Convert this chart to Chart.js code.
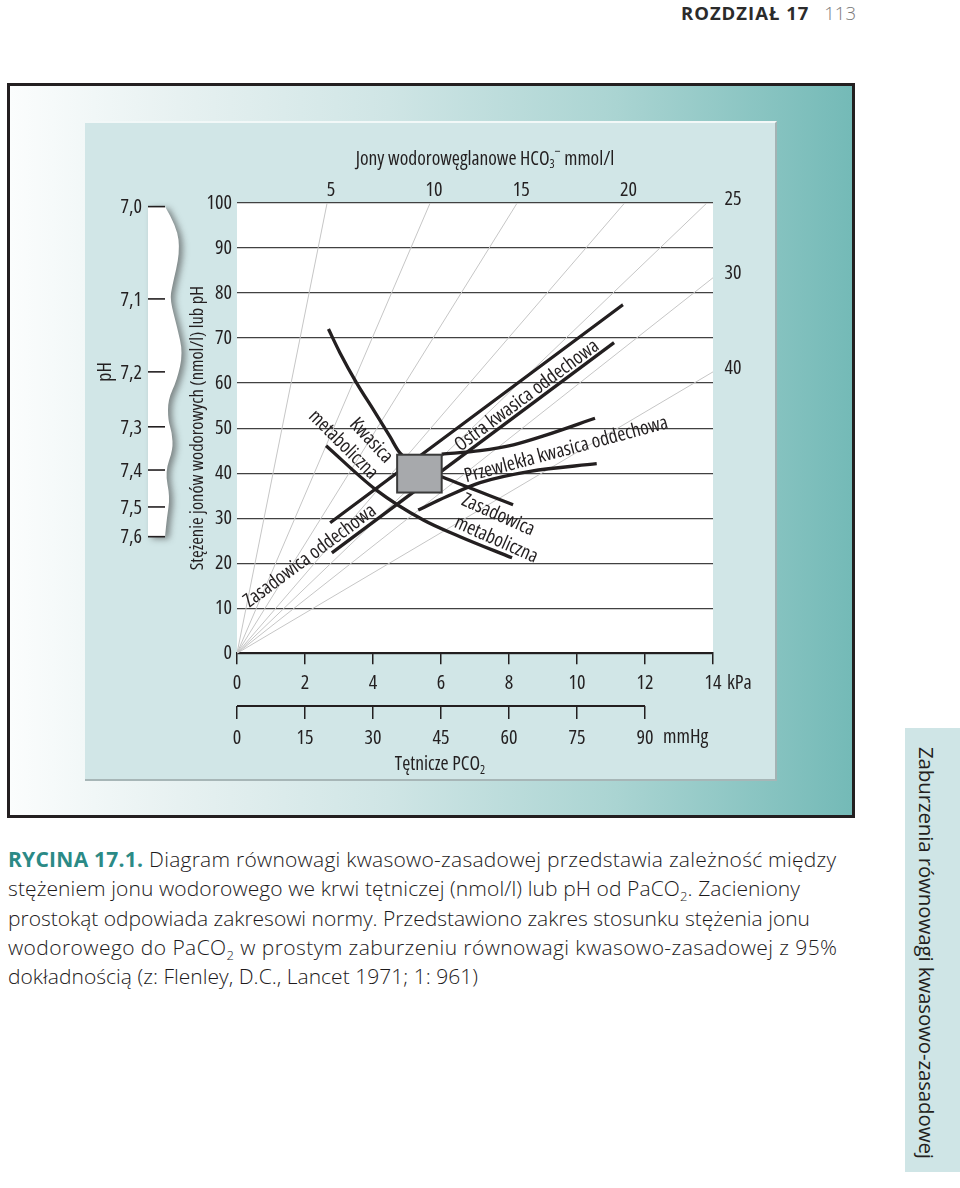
<!DOCTYPE html>
<html lang="pl">
<head>
<meta charset="utf-8">
<title>Rycina 17.1 – diagram równowagi kwasowo-zasadowej</title>
<script src="https://cdn.jsdelivr.net/npm/chart.js@4/dist/chart.umd.min.js"></script>
<style>
  html, body { margin: 0; padding: 0; background: #fff; }
  body { width: 960px; height: 1188px; position: relative; overflow: hidden; font-family: 'Open Sans', sans-serif; color: #231f20; }
  .runhead { position: absolute; top: 0; right: 104px; font-size: 18.5px; line-height: 26px; white-space: nowrap; }
  .runhead .chap { font-weight: 700; letter-spacing: 1px; color: #2b2b2b; }
  .runhead .page { margin-left: 15px; color: #7a7a7a; font-weight: 300; }
  .frame { position: absolute; left: 7px; top: 83px; width: 842px; height: 729px; border: 3px solid #231f20;
    background: linear-gradient(90deg, #fbfdfd 0%, #e7f1f1 20%, #cfe5e5 45%, #aad4d2 72%, #74bab7 100%); }
  .panel { position: absolute; left: 85px; top: 121px; width: 690px; height: 656px; background: #d1e6e7;
    border-top: 2px solid #f2f8f8; border-right: 2px solid #a3b3b4; border-bottom: 2px solid #a7b6b7; }
  #chart { position: absolute; left: 0; top: 0; }
  .caption { position: absolute; left: 8px; top: 845px; font-size: 21px; line-height: 29.3px; font-weight: 300; color: #1d1a1b; }
  .caption span { display: inline-block; white-space: nowrap; }
  .caption b { color: #2b8a86; font-weight: 700; }
  .caption sub { font-size: 13px; line-height: 0; }
  .tab { position: absolute; left: 905px; top: 728px; width: 55px; height: 444px; background: #cfe5e6; }
  .tab span { position: absolute; left: 8px; top: 19px; writing-mode: vertical-rl; font-size: 20.5px; line-height: 28px; white-space: nowrap; }
</style>
</head>
<body>
<div class="runhead"><span class="chap">ROZDZIAŁ 17</span><span class="page">113</span></div>
<div class="frame"></div>
<div class="panel"></div>
<canvas id="chart" width="960" height="820"></canvas>
<div class="caption">
  <span data-w="828"><b>RYCINA 17.1.</b> Diagram równowagi kwasowo-zasadowej przedstawia zależność między</span><br>
  <span data-w="792">stężeniem jonu wodorowego we krwi tętniczej (nmol/l) lub pH od PaCO<sub>2</sub>. Zacieniony</span><br>
  <span data-w="802">prostokąt odpowiada zakresowi normy. Przedstawiono zakres stosunku stężenia jonu</span><br>
  <span data-w="829">wodorowego do PaCO<sub>2</sub> w prostym zaburzeniu równowagi kwasowo-zasadowej z 95%</span><br>
  <span data-w="470">dokładnością (z: Flenley, D.C., Lancet 1971; 1: 961)</span>
</div>
<div class="tab"><span data-h="412">Zaburzenia równowagi kwasowo-zasadowej</span></div>

<script>
// HCO3- isopleths (mmol/l): all start at the origin, end where they leave the plot
const hco3Values = [5, 10, 15, 20, 25, 30, 40];
const hco3EndKpa = [2.65, 5.68, 8.24, 11.4, 13.82, 14, 14];
const hco3EndNmol = [100, 100, 100, 100, 100, 83.4, 62.5];
const hco3LabelSide = ['top', 'top', 'top', 'top', 'right', 'right', 'right'];

// pH scale next to the [H+] axis
const phLabels = ['7,0', '7,1', '7,2', '7,3', '7,4', '7,5', '7,6'];
const phNmol = [99.2, 78.7, 62.5, 50.3, 40.7, 32.5, 25.9];

const mmHgTicks = [0, 15, 30, 45, 60, 75, 90];

// 95% bands (x = PCO2 kPa, y = [H+] nmol/l)
const metUpperKpa = [2.69, 3.03, 3.52, 4.01, 4.50, 4.79, 5.45, 6.02, 8.12];
const metUpperNmol = [72.0, 66.7, 60.0, 54.1, 48.1, 44.5, 41.0, 39.2, 33.0];
const metLowerKpa = [2.62, 4.09, 5.48, 6.56, 8.09];
const metLowerNmol = [46.1, 36.3, 29.6, 25.9, 21.2];
const acuteUpperKpa = [2.74, 11.35];
const acuteUpperNmol = [29.0, 77.4];
const acuteLowerKpa = [2.79, 11.09];
const acuteLowerNmol = [22.3, 69.0];
const chronicUpperKpa = [6.02, 7.15, 8.13, 9.11, 10.53];
const chronicUpperNmol = [44.2, 45.0, 46.3, 48.5, 52.2];
const chronicLowerKpa = [5.33, 6.17, 7.15, 8.62, 10.58];
const chronicLowerNmol = [31.8, 34.8, 37.9, 40.4, 42.1];

// normal range (shaded rectangle)
const normKpa = [4.71, 6.02];
const normNmol = [35.7, 44.1];

const INK = '#231f20';
const FAMILY = "'Open Sans', sans-serif";
const cond = size => `condensed ${size}px ${FAMILY}`;

const pts = (xs, ys) => xs.map((x, i) => ({ x, y: ys[i] }));

function bandLine(xs, ys) {
  return {
    data: pts(xs, ys),
    showLine: true,
    borderColor: INK,
    borderWidth: 3.3,
    pointRadius: 0,
    cubicInterpolationMode: 'monotone',
    order: 1,
  };
}

const fanSets = hco3Values.map((v, i) => ({
  data: [{ x: 0, y: 0 }, { x: hco3EndKpa[i], y: hco3EndNmol[i] }],
  showLine: true,
  borderColor: '#c6c6c6',
  borderWidth: 1,
  pointRadius: 0,
  order: 2,
}));

function drawRich(ctx, parts, x, y, align) {
  const widths = parts.map(p => { ctx.font = p.font; return ctx.measureText(p.text).width; });
  const total = widths.reduce((s, w) => s + w, 0);
  let cx = align === 'center' ? x - total / 2 : x;
  ctx.textAlign = 'left';
  parts.forEach((p, i) => {
    ctx.font = p.font;
    ctx.fillText(p.text, cx, y + (p.dy || 0));
    cx += widths[i];
  });
}

function drawRotated(chart, text, kpa, nmol, deg) {
  const { ctx, scales } = chart;
  ctx.save();
  ctx.translate(scales.x.getPixelForValue(kpa), scales.y.getPixelForValue(nmol));
  ctx.rotate(deg * Math.PI / 180);
  ctx.fillStyle = INK;
  ctx.font = cond(19.5);
  ctx.textAlign = 'center';
  ctx.textBaseline = 'middle';
  ctx.fillText(text, 0, 0);
  ctx.restore();
}

function drawNormBox(chart) {
  const { ctx, scales } = chart;
  const x0 = scales.x.getPixelForValue(normKpa[0]);
  const x1 = scales.x.getPixelForValue(normKpa[1]);
  const y0 = scales.y.getPixelForValue(normNmol[1]);
  const y1 = scales.y.getPixelForValue(normNmol[0]);
  ctx.save();
  ctx.fillStyle = '#a7a9ac';
  ctx.strokeStyle = '#3a3a3a';
  ctx.lineWidth = 2;
  ctx.fillRect(x0, y0, x1 - x0, y1 - y0);
  ctx.strokeRect(x0, y0, x1 - x0, y1 - y0);
  ctx.restore();
}

function drawPhStrip(chart) {
  const { ctx, chartArea: a } = chart;
  const y = chart.scales.y;
  const x0 = a.left - 89;
  // torn-paper edge of the white pH strip
  const edge = [[17, 99.2], [29, 94.7], [32, 89.0], [24, 81.4], [22, 78.5], [29, 72.5], [35, 66.7],
    [29, 60.7], [20, 56.3], [20, 51.8], [24, 49.0], [25, 45.2], [17, 40.3], [22, 34.7], [19, 30.3], [17, 25.9]];
  const p = edge.map(([dx, h]) => [x0 + dx, y.getPixelForValue(h)]);
  ctx.save();
  ctx.beginPath();
  ctx.moveTo(x0, p[0][1]);
  ctx.lineTo(p[0][0], p[0][1]);
  for (let i = 1; i < p.length - 1; i++) {
    const mx = (p[i][0] + p[i + 1][0]) / 2, my = (p[i][1] + p[i + 1][1]) / 2;
    ctx.quadraticCurveTo(p[i][0], p[i][1], mx, my);
  }
  ctx.lineTo(p[p.length - 1][0], p[p.length - 1][1]);
  ctx.lineTo(x0, p[p.length - 1][1]);
  ctx.closePath();
  ctx.shadowColor = 'rgba(70,70,70,0.6)';
  ctx.shadowBlur = 6;
  ctx.shadowOffsetX = 4;
  ctx.shadowOffsetY = 2;
  ctx.fillStyle = '#fff';
  ctx.fill();
  ctx.restore();

  ctx.save();
  ctx.strokeStyle = INK;
  ctx.lineWidth = 1.6;
  ctx.fillStyle = INK;
  ctx.font = cond(20);
  ctx.textAlign = 'right';
  ctx.textBaseline = 'middle';
  phNmol.forEach((h, i) => {
    const py = y.getPixelForValue(h);
    ctx.beginPath();
    ctx.moveTo(x0, py);
    ctx.lineTo(x0 + 17, py);
    ctx.stroke();
    ctx.fillText(phLabels[i], x0 - 6, py + 1);
  });
  // rotated axis names
  ctx.textAlign = 'center';
  ctx.translate(a.left - 132, y.getPixelForValue(62.5));
  ctx.rotate(-Math.PI / 2);
  ctx.fillText('pH', 0, 0);
  ctx.restore();

  ctx.save();
  ctx.fillStyle = INK;
  ctx.font = cond(18.5);
  ctx.textAlign = 'center';
  ctx.textBaseline = 'middle';
  ctx.translate(a.left - 39, y.getPixelForValue(50));
  ctx.rotate(-Math.PI / 2);
  ctx.fillText('Stężenie jonów wodorowych (nmol/l) lub pH', 0, 0);
  ctx.restore();
}

function drawHco3Labels(chart) {
  const { ctx, chartArea: a, scales } = chart;
  ctx.save();
  ctx.fillStyle = INK;
  ctx.textBaseline = 'middle';
  drawRich(ctx, [
    { text: 'Jony wodorowęglanowe HCO', font: cond(19.5) },
    { text: '3', font: cond(12), dy: 6 },
    { text: '\u2212', font: cond(14), dy: -7 },
    { text: ' mmol/l', font: cond(19.5) },
  ], a.left + 248, a.top - 44, 'center');

  ctx.font = cond(20);
  ctx.textAlign = 'center';
  hco3Values.forEach((v, i) => {
    if (hco3LabelSide[i] === 'top') {
      ctx.fillText(String(v), scales.x.getPixelForValue(hco3EndKpa[i]) + 4, a.top - 13);
    } else {
      ctx.fillText(String(v), a.right + 20, scales.y.getPixelForValue(hco3EndNmol[i]) - 4);
    }
  });
  ctx.restore();
}

function drawAxisExtras(chart) {
  const { ctx, chartArea: a } = chart;
  const mm = chart.scales.xMm;
  ctx.save();
  ctx.strokeStyle = INK;
  ctx.lineWidth = 2;
  ctx.beginPath();
  ctx.moveTo(mm.getPixelForValue(mmHgTicks[0]), mm.top);
  ctx.lineTo(mm.getPixelForValue(mmHgTicks[mmHgTicks.length - 1]), mm.top);
  ctx.stroke();

  ctx.fillStyle = INK;
  ctx.font = cond(20);
  ctx.textAlign = 'left';
  ctx.textBaseline = 'middle';
  ctx.fillText('kPa', a.right + 14, a.bottom + 30);
  ctx.fillText('mmHg', mm.getPixelForValue(90) + 18, mm.top + 31);
  drawRich(ctx, [
    { text: 'Tętnicze PCO', font: cond(19.5) },
    { text: '2', font: cond(12), dy: 7 },
  ], mm.getPixelForValue(30) + 67, mm.top + 58, 'center');
  ctx.restore();
}

const decorations = {
  id: 'decorations',
  beforeDraw(chart) {
    const { ctx, chartArea: a } = chart;
    ctx.save();
    ctx.fillStyle = '#fff';
    ctx.fillRect(a.left, a.top, a.right - a.left, a.bottom - a.top);
    ctx.restore();
  },
  afterDatasetsDraw(chart) {
    drawNormBox(chart);
    drawRotated(chart, 'Kwasica', 3.94, 47.2, 47);
    drawRotated(chart, 'metaboliczna', 3.12, 46.3, 45);
    drawRotated(chart, 'Zasadowica oddechowa', 2.15, 21.6, -36.5);
    drawRotated(chart, 'Ostra kwasica oddechowa', 8.53, 57.2, -36.5);
    drawRotated(chart, 'Przewlekła kwasica oddechowa', 9.68, 45.2, -15);
    drawRotated(chart, 'Zasadowica', 7.68, 30.7, 24);
    drawRotated(chart, 'metaboliczna', 7.62, 25.2, 24);
  },
  afterDraw(chart) {
    drawPhStrip(chart);
    drawHco3Labels(chart);
    drawAxisExtras(chart);
  },
};

// 'condensed' goes into the weight slot so Chart.js builds "condensed 20px 'Open Sans'"
const tickFont = { family: FAMILY, size: 20, weight: 'condensed' };

new Chart(document.getElementById('chart').getContext('2d'), {
  type: 'scatter',
  data: {
    datasets: [
      bandLine(metUpperKpa, metUpperNmol),
      bandLine(metLowerKpa, metLowerNmol),
      bandLine(acuteUpperKpa, acuteUpperNmol),
      bandLine(acuteLowerKpa, acuteLowerNmol),
      bandLine(chronicUpperKpa, chronicUpperNmol),
      bandLine(chronicLowerKpa, chronicLowerNmol),
      ...fanSets,
    ],
  },
  options: {
    responsive: false,
    animation: false,
    layout: { padding: { left: 197, right: 247, top: 203, bottom: 64 } },
    plugins: { legend: { display: false }, tooltip: { enabled: false } },
    scales: {
      x: {
        type: 'linear', position: 'bottom', min: 0, max: 14,
        afterFit: s => { s.height = 52.7; },
        ticks: { stepSize: 2, autoSkip: false, maxRotation: 0, padding: 7, color: INK, font: tickFont },
        grid: { drawOnChartArea: false, drawTicks: true, tickLength: 11, color: INK, lineWidth: 1.5 },
        border: { display: true, color: INK, width: 2 },
      },
      xMm: {
        type: 'linear', position: 'bottom', min: 0, max: 105,
        afterBuildTicks: s => { s.ticks = mmHgTicks.map(v => ({ value: v })); },
        afterFit: s => { s.height = 50; },
        ticks: { autoSkip: false, maxRotation: 0, padding: 7, color: INK, font: tickFont },
        grid: { drawOnChartArea: false, drawTicks: true, tickLength: 13, color: INK, lineWidth: 1.5 },
        border: { display: false },
      },
      y: {
        min: 0, max: 100,
        afterFit: s => { s.width = 40; },
        ticks: { stepSize: 10, padding: 5, color: INK, font: tickFont },
        grid: { drawTicks: false, color: '#414141', lineWidth: 1.3 },
        border: { display: false },
      },
    },
  },
  plugins: [decorations],
});

// stretch caption lines and the side tab to the widths of the printed page
function fitText() {
  document.querySelectorAll('.caption span[data-w]').forEach(el => {
    const n = el.textContent.length;
    const gap = (+el.dataset.w - el.getBoundingClientRect().width) / (n - 1);
    el.style.letterSpacing = gap.toFixed(3) + 'px';
  });
  const tab = document.querySelector('.tab span');
  const gap = (+tab.dataset.h - tab.getBoundingClientRect().height) / (tab.textContent.length - 1);
  tab.style.letterSpacing = gap.toFixed(3) + 'px';
}
fitText();
</script>
</body>
</html>
